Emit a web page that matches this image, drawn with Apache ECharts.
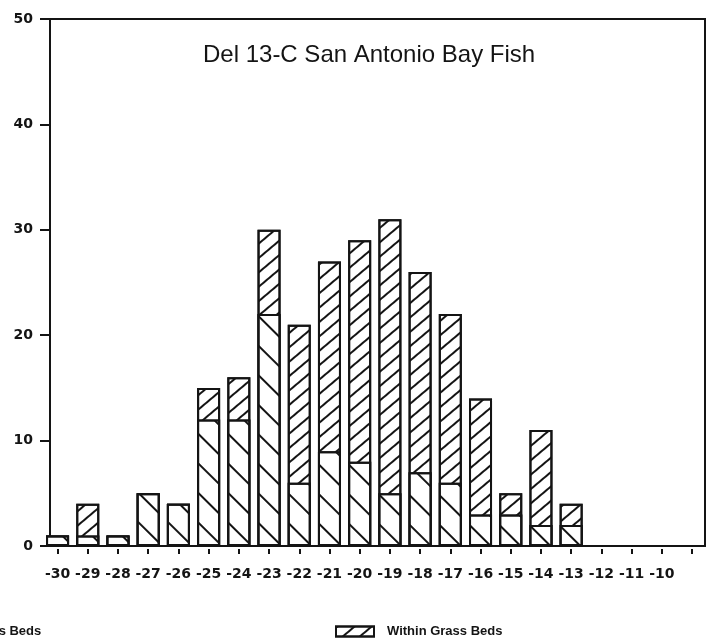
<!DOCTYPE html>
<html>
<head>
<meta charset="utf-8">
<script src="https://cdn.jsdelivr.net/npm/echarts@6/dist/echarts.min.js"></script>
<style>
html,body{margin:0;padding:0;background:#fff;}
#chart{width:708px;height:643px;}
</style>
</head>
<body>
<div id="chart"></div>
<script>
// Carbon-13 bins (per mil)
const categories = [-30,-29,-28,-27,-26,-25,-24,-23,-22,-21,-20,-19,-18,-17,-16,-15,-14,-13,-12,-11,-10];
// Counts outside grass beds (lower, "\" hatch)
const outsideValues = [1,1,1,5,4,12,12,22,6,9,8,5,7,6,3,3,2,2,0,0,0];
// Counts within grass beds (upper, "/" hatch)
const withinValues  = [0,3,0,0,0,3,4,8,15,18,21,26,19,16,11,2,9,2,0,0,0];
// Axis ticks / labels
const xTickValues = [-30,-29,-28,-27,-26,-25,-24,-23,-22,-21,-20,-19,-18,-17,-16,-15,-14,-13,-12,-11,-10,-9];
const xLabelValues = categories;
const yTickLabels = [0,10,20,30,40,50];
const seriesNames = ['Outside Grass Beds','Within Grass Beds'];
const titleText = 'Del 13-C San Antonio Bay Fish';

const totalData = [];
const outsideData = [];
categories.forEach((c,i)=>{
  const tot = outsideValues[i] + withinValues[i];
  if (tot > 0) totalData.push([c, tot]);
  if (outsideValues[i] > 0) outsideData.push([c, outsideValues[i]]);
});

const ink = '#141414';
const chart = echarts.init(document.getElementById('chart'), null, {renderer:'canvas'});
chart.setOption({
  backgroundColor:'#ffffff',
  animation:false,
  title:{
    text:titleText, left:198, top:38,
    textStyle:{fontFamily:'Liberation Sans', fontSize:24, fontWeight:'normal', color:ink}
  },
  legend:[
    {data:[seriesNames[0]], icon:'rect', left:-140, top:620, itemWidth:38, itemHeight:10,
     textStyle:{fontFamily:'Liberation Sans', fontSize:13, fontWeight:'bold', color:ink, padding:[0,0,0,8]}},
    {data:[seriesNames[1]], icon:'rect', left:330, top:620, itemWidth:38, itemHeight:10,
     textStyle:{fontFamily:'Liberation Sans', fontSize:13, fontWeight:'bold', color:ink, padding:[0,0,0,8]}}
  ],
  grid:{left:50, right:3, top:19, bottom:97, show:true, borderColor:ink, borderWidth:2, backgroundColor:'transparent'},
  xAxis:[
    {type:'value', min:-30.25, max:-8.57, position:'bottom',
     axisLine:{show:true, lineStyle:{color:ink, width:2}},
     axisTick:{show:false}, axisLabel:{show:false}, splitLine:{show:false}},
    {type:'value', min:-30.25, max:-8.57, position:'bottom', offset:3,
     axisLine:{show:false},
     axisTick:{show:true, length:5, customValues:xTickValues, lineStyle:{color:ink, width:2}},
     axisLabel:{show:true, customValues:xLabelValues, margin:18, hideOverlap:false,
       fontFamily:'DejaVu Sans', fontWeight:'bold', fontSize:14, color:ink},
     splitLine:{show:false}}
  ],
  yAxis:{type:'value', min:0, max:50, interval:10,
    axisLine:{show:true, lineStyle:{color:ink, width:2}},
    axisTick:{show:true, length:10, lineStyle:{color:ink, width:2}},
    axisLabel:{margin:17, fontFamily:'DejaVu Sans', fontWeight:'bold', fontSize:14, color:ink,
      customValues:yTickLabels},
    splitLine:{show:false}},
  series:[
    {name:seriesNames[1], type:'bar', xAxisIndex:0, barWidth:23, barGap:'-100%',
     data:totalData,
     itemStyle:{color:'#ffffff', borderColor:ink, borderWidth:2,
       decal:{symbol:'rect', symbolSize:1, color:ink, dashArrayX:[1,0], dashArrayY:[2,9], rotation:-0.7}}},
    {name:seriesNames[0], type:'bar', xAxisIndex:0, barWidth:23, barGap:'-100%',
     data:outsideData,
     itemStyle:{color:'#ffffff', borderColor:ink, borderWidth:2,
       decal:{symbol:'rect', symbolSize:1, color:ink, dashArrayX:[1,0], dashArrayY:[2,19], rotation:0.78}}}
  ]
});
</script>
</body>
</html>
